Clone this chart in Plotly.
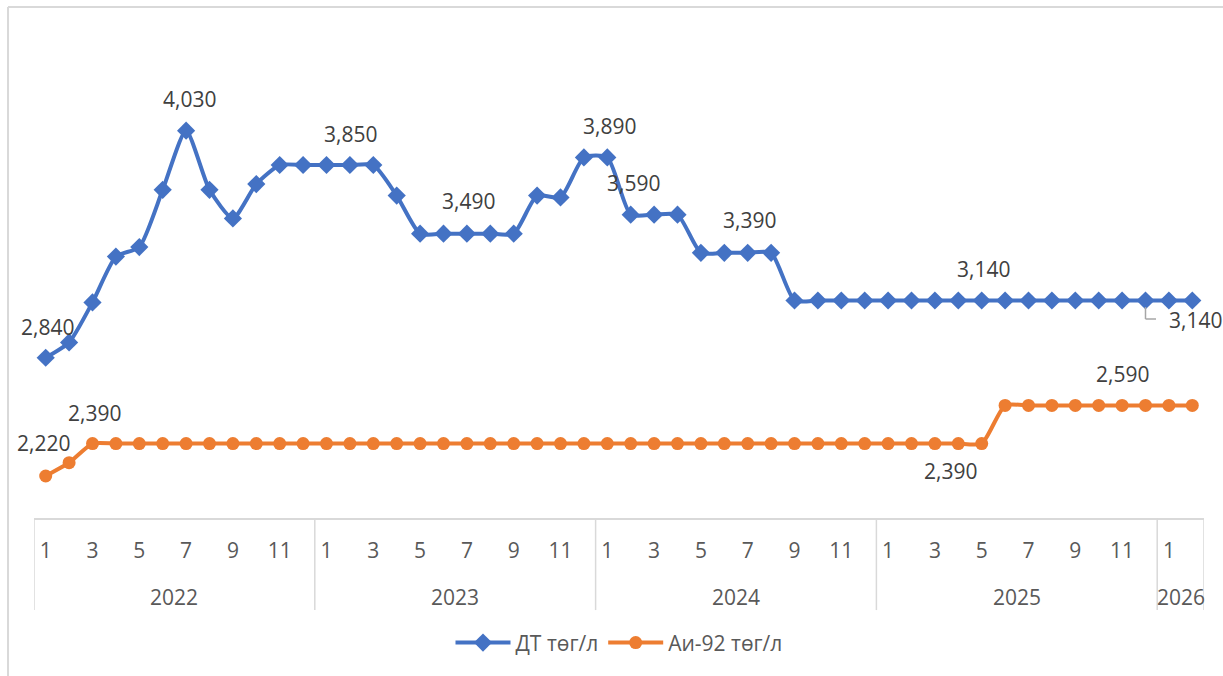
import plotly.graph_objects as go

years = ["2022", "2023", "2024", "2025", "2026"]
months_per_year = [12, 12, 12, 12, 2]
month_labels = []
for n in months_per_year:
    month_labels += [str(m) for m in range(1, n + 1)]

dt_values = [
    2840, 2920, 3130, 3370, 3420, 3720, 4030, 3720, 3570, 3750, 3850, 3850,
    3850, 3850, 3850, 3690, 3490, 3490, 3490, 3490, 3490, 3690, 3680, 3890,
    3890, 3590, 3590, 3590, 3390, 3390, 3390, 3390, 3140, 3140, 3140, 3140,
    3140, 3140, 3140, 3140, 3140, 3140, 3140, 3140, 3140, 3140, 3140, 3140,
    3140, 3140,
]
ai92_values = [
    2220, 2290, 2390, 2390, 2390, 2390, 2390, 2390, 2390, 2390, 2390, 2390,
    2390, 2390, 2390, 2390, 2390, 2390, 2390, 2390, 2390, 2390, 2390, 2390,
    2390, 2390, 2390, 2390, 2390, 2390, 2390, 2390, 2390, 2390, 2390, 2390,
    2390, 2390, 2390, 2390, 2390, 2590, 2590, 2590, 2590, 2590, 2590, 2590,
    2590, 2590,
]
# indices of points carrying data labels: (index, yshift, xshift)
dt_label_idx = [(0, 31, 2), (6, 32, 3), (13, 31, 1), (18, 33, 2), (24, 31, 2),
                (25, 32, 3), (30, 33, 2), (40, 31, 2)]
ai_label_idx = [(0, 33, -2), (2, 31, 2), (39, -27, -8), (46, 31, 0)]

x = list(range(len(month_labels)))
BLUE = "#4472C4"
ORANGE = "#ED7D31"
FONT = "Open Sans"
FS = 21
TXT = "#404040"
AX = "#595959"
GRID = "#D9D9D9"

fig = go.Figure()
fig.add_trace(go.Scatter(
    x=x, y=dt_values, name="ДТ төг/л", mode="lines+markers",
    line=dict(color=BLUE, width=4, shape="spline", smoothing=0.6),
    marker=dict(symbol="diamond", size=14, color=BLUE),
))
fig.add_trace(go.Scatter(
    x=x, y=ai92_values, name="Аи-92 төг/л", mode="lines+markers",
    line=dict(color=ORANGE, width=4, shape="spline", smoothing=0.6),
    marker=dict(symbol="circle", size=13, color=ORANGE),
))

annotations = []
for i, ys, xs in dt_label_idx:
    annotations.append(dict(x=x[i], y=dt_values[i], xref="x", yref="y",
                            text=f"{dt_values[i]:,}", showarrow=False,
                            yshift=ys, xshift=xs,
                            font=dict(family=FONT, size=FS, color=TXT)))
for i, ys, xs in ai_label_idx:
    annotations.append(dict(x=x[i], y=ai92_values[i], xref="x", yref="y",
                            text=f"{ai92_values[i]:,}", showarrow=False,
                            yshift=ys, xshift=xs,
                            font=dict(family=FONT, size=FS, color=TXT)))
# moved label with leader line (index 47)
lead = 47
annotations.append(dict(x=x[lead], y=dt_values[lead], xref="x", yref="y",
                        text=f"{dt_values[lead]:,}", showarrow=False,
                        xanchor="left", xshift=21, yshift=-20,
                        font=dict(family=FONT, size=FS, color=TXT)))

# year labels
start = 0
bounds = [-0.5]
for yr, n in zip(years, months_per_year):
    center = start + (n - 1) / 2
    annotations.append(dict(x=center, y=-0.166, xref="x", yref="paper",
                            text=yr, showarrow=False, yanchor="middle",
                            font=dict(family=FONT, size=FS, color=AX)))
    start += n
    bounds.append(start - 0.5)

shapes = []
for b in bounds:
    shapes.append(dict(type="line", xref="x", yref="paper", x0=b, x1=b,
                       y0=0, y1=-0.193, line=dict(color=GRID, width=1.5)))
# leader line
shapes.append(dict(type="line", xref="x", yref="y", x0=lead, x1=lead,
                   y0=3106, y1=3043, line=dict(color="#A6A6A6", width=1.5)))
shapes.append(dict(type="line", xref="x", yref="y", x0=lead, x1=lead + 0.45,
                   y0=3043, y1=3043, line=dict(color="#A6A6A6", width=1.5)))
# chart border (top and left)
shapes.append(dict(type="line", xref="paper", yref="paper", x0=-0.0222, x1=1.02,
                   y0=1.0713, y1=1.0713, line=dict(color=GRID, width=2)))
shapes.append(dict(type="line", xref="paper", yref="paper", x0=-0.0222, x1=-0.0222,
                   y0=1.0713, y1=-0.34, line=dict(color=GRID, width=2)))

tickvals = [i for i, m in enumerate(month_labels) if int(m) % 2 == 1]
ticktext = [month_labels[i] for i in tickvals]

fig.update_layout(
    width=1223, height=676,
    margin=dict(l=34, r=19, t=41, b=158),
    plot_bgcolor="white", paper_bgcolor="white",
    font=dict(family=FONT, size=FS, color=AX),
    xaxis=dict(range=[-0.5, len(x) - 0.5], tickvals=tickvals, ticktext=ticktext,
               showgrid=False, zeroline=False, showline=True, linecolor=GRID,
               linewidth=1.5, ticks="", ticklabelstandoff=13,
               tickfont=dict(family=FONT, size=FS, color=AX)),
    yaxis=dict(range=[2000, 4500], visible=False, showgrid=False),
    legend=dict(orientation="h", x=0.5, xanchor="center", y=-0.262,
                yanchor="middle", itemwidth=55,
                font=dict(family=FONT, size=FS, color=AX)),
    annotations=annotations, shapes=shapes,
    showlegend=True,
)
fig.write_html("out.html", config={"displayModeBar": False},
               post_script="document.body.style.margin='0';document.body.style.overflow='hidden';")
